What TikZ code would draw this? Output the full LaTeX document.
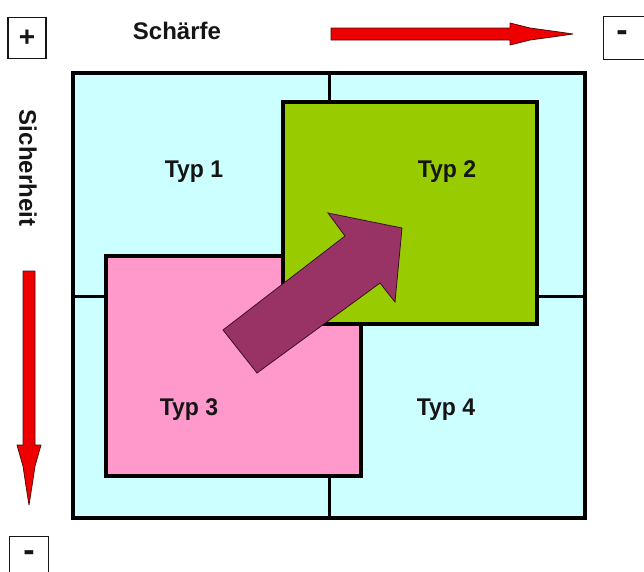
\documentclass[tikz,border=0pt]{standalone}
\usepackage{fontspec}
\setmainfont{Liberation Sans}
\definecolor{quadcyan}{HTML}{CCFFFF}
\definecolor{typgreen}{HTML}{99CC00}
\definecolor{typpink}{HTML}{FF99CC}
\definecolor{plum}{HTML}{993366}
\definecolor{plumedge}{HTML}{3A1025}
\definecolor{arrowred}{HTML}{EE0000}
\definecolor{arrowedge}{HTML}{5A0A0A}
\definecolor{ink}{HTML}{151515}
\tikzset{
  typlabel/.style={font=\bfseries\fontsize{23}{25}\selectfont, text=ink, yscale=1.05},
  axislabel/.style={font=\bfseries\fontsize{24}{26}\selectfont, text=ink},
  signbox/.style={draw=ink, line width=1.4pt, fill=white, inner sep=0pt,
    font=\bfseries\fontsize{28}{28}\selectfont, text=ink},
  signtext/.style={font=\bfseries\fontsize{34}{34}\selectfont, text=ink},
  quadline/.style={draw=black, line width=3pt},
  typbox/.style={draw=black, line width=4pt},
  redarrow/.style={fill=arrowred, draw=arrowedge, line width=0.8pt, line join=round},
}
\begin{document}
\begin{tikzpicture}[x=1pt, y=-1pt]
  \useasboundingbox (0,0) rectangle (644,571);
  \clip (0,0) rectangle (644,571);

  % four quadrants
  \fill[quadcyan] (73,73) rectangle (585,518);
  \draw[quadline] (329,73) -- (329,518);
  \draw[quadline] (73,296) -- (585,296);
  \draw[black, line width=4pt] (73,73) rectangle (585,518);

  % overlapping type squares
  \draw[typbox, fill=typpink] (106,256) rectangle (361,476);
  \draw[typbox, fill=typgreen] (283,102) rectangle (537,324);

  % quadrant labels
  \node[typlabel] (t1) at (194,172) {Typ 1};
  \node[typlabel] (t2) at (447,172) {Typ 2};
  \node[typlabel] (t3) at (189,410) {Typ 3};
  \node[typlabel] (t4) at (446,410) {Typ 4};

  % block arrow from type 3 towards type 2
  \draw[fill=plum, draw=plumedge, line width=0.8pt, line join=miter]
    (223,330) -- (345,236) -- (328,213) -- (402,228) -- (395,302)
    -- (380,283) -- (257,373) -- cycle;

  % axis labels
  \node[axislabel] (scharf) at (177,31) {Schärfe};
  \node[axislabel, rotate=-90] (sicher) at (28,168) {Sicherheit};

  % axis arrows
  \draw[redarrow] (331,28) -- (510,28) -- (510,23) -- (530,28) -- (552,31)
    -- (573,34) -- (552,37) -- (530,40) -- (510,45) -- (510,40) -- (331,40) -- cycle;
  \draw[redarrow] (23,271) -- (23,445) -- (17,445) -- (23,466) -- (26,486)
    -- (29,505) -- (32,486) -- (35,466) -- (41,445) -- (35,445) -- (35,271) -- cycle;

  % sign boxes at the axis ends
  \node[signbox, minimum width=38pt, minimum height=41pt] (plus) at (27,38) {+};
  \node[signbox, minimum width=46pt, minimum height=43pt, anchor=north west] (minusr) at (603,16) {};
  \node[signtext] (minusrt) at (622,36) {-};
  \node[signbox, minimum width=39pt, minimum height=44pt, anchor=north west] (minusb) at (9,536) {};
  \node[signtext] (minusbt) at (29,556) {-};
\end{tikzpicture}
\end{document}
